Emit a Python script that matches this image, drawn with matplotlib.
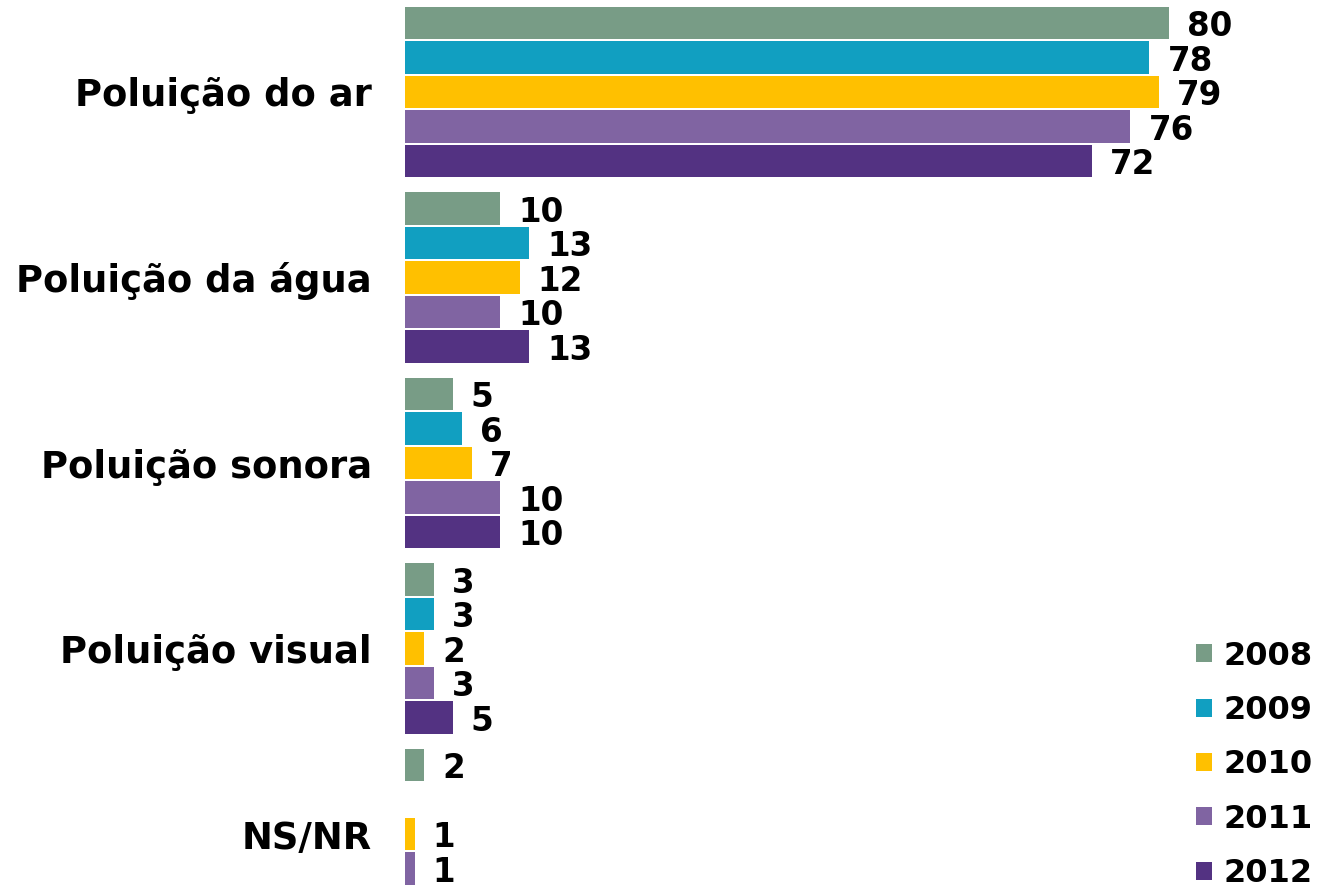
import numpy as np
import matplotlib
matplotlib.use("Agg")
import matplotlib.pyplot as plt

categories = ["Poluição do ar", "Poluição da água", "Poluição sonora", "Poluição visual", "NS/NR"]
years = ["2008", "2009", "2010", "2011", "2012"]
values = {
    "2008": [80, 10, 5, 3, 2],
    "2009": [78, 13, 6, 3, np.nan],
    "2010": [79, 12, 7, 2, 1],
    "2011": [76, 10, 10, 3, 1],
    "2012": [72, 13, 10, 5, np.nan],
}
colors = ["#789c86", "#119fc1", "#ffc000", "#8064a2", "#533282"]

plt.rcParams['font.family'] = ['DejaVu Sans']
fig = plt.figure(figsize=(13.23, 8.86), dpi=100)
ax = fig.add_axes([405 / 1323, 0, 1 - 405 / 1323, 1])

slot = 0.186
y = np.arange(len(categories))
for i, yr in enumerate(years):
    vals = np.array(values[yr], dtype=float)
    pos = y + (i - 2) * slot
    ax.barh(pos, np.nan_to_num(vals), height=slot * 0.93, color=colors[i], label=yr)
    for p, v in zip(pos, vals):
        if np.isnan(v):
            continue
        # small downward nudge so the digits sit centred on the bar
        ax.text(v + 1.9, p + 0.02, "%d" % v, va="center", ha="left", fontsize=23.5, fontweight="bold")

ax.set_xlim(0, (1323 - 405) / 9.544)
ax.set_ylim((886 - 92) / 185.5, -92 / 185.5)
ax.set_yticks(y)
ax.set_yticklabels(categories, fontsize=26.6, fontweight="bold")
ax.tick_params(axis="y", length=0, pad=24)
ax.set_xticks([])
for s in ax.spines.values():
    s.set_visible(False)

leg = ax.legend(loc="lower right", bbox_to_anchor=(1 - 10 / 1323, -3 / 886), bbox_transform=fig.transFigure,
                frameon=False, prop={"size": 23, "weight": "bold"}, handlelength=0.5, handleheight=0.5,
                handletextpad=0.38, labelspacing=0.73, borderaxespad=0, borderpad=0)

fig.savefig("out.png", dpi=100)
